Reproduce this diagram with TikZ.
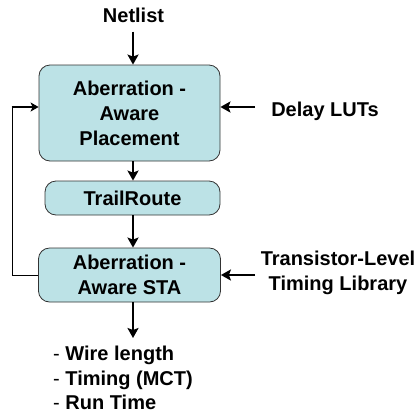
\documentclass[tikz,border=0pt]{standalone}
\usepackage{fontspec}
\setmainfont{Liberation Sans}
\usetikzlibrary{arrows.meta}
\definecolor{boxfill}{RGB}{188,226,230}
\begin{document}
\begin{tikzpicture}[x=1pt,y=-1pt,
  every node/.style={font=\fontsize{20}{25}\selectfont\bfseries, inner sep=0pt},
  blk/.style={draw=black!80, line width=0.8pt, fill=boxfill, rounded corners=11pt, align=center},
  arr/.style={line width=2.8pt, -{Stealth[length=10pt,width=11pt,inset=2pt]}},
  thin/.style={line width=0.9pt}]
\useasboundingbox (0,0) rectangle (419,418);
\coordinate (ax) at (133,0);
\node (netlist) at (133.5,15) {Netlist};
\node[blk, minimum width=181pt, minimum height=96pt] (place) at (129.5,113) {Aberration -\\Aware\\Placement};
\node[blk, minimum width=175pt, minimum height=34pt] (route) at (132.5,198) {TrailRoute};
\node[blk, minimum width=182pt, minimum height=54pt] (sta) at (129.5,275) {Aberration -\\Aware STA};
\node (delay) at (325,111) {Delay LUTs};
\node[align=center] (lib) at (338,273) {Transistor-Level\\Timing Library};
\node[align=left, anchor=west, font=\fontsize{20}{24.5}\selectfont\bfseries] (out) at (53,378)
  {{\mdseries -} Wire length\\{\mdseries -} Timing (MCT)\\{\mdseries -} Run Time};
\coordinate (d0) at (255,107);
\coordinate (t0) at (255,275);
\coordinate (lp) at (12,107);
\coordinate (lq) at (12,275);
\coordinate (o1) at (133,338);
\draw[arr] ([yshift=-9pt]netlist.south -| ax) -- (place.north -| ax);
\draw[arr] (place.south -| ax) -- (route.north -| ax);
\draw[arr] (route.south -| ax) -- (sta.north -| ax);
\draw[arr] (sta.south -| ax) -- (o1);
\draw[arr] (d0) -- (d0 -| place.east);
\draw[arr] (t0) -- (t0 -| sta.east);
\draw[thin] (sta.west |- lq) -- (lq) -- (lp);
\draw[line width=1.8pt, -{Stealth[length=8pt,width=9pt,inset=2pt]}] ([xshift=-0.4pt]lp) -- (lp -| place.west);
\end{tikzpicture}
\end{document}
